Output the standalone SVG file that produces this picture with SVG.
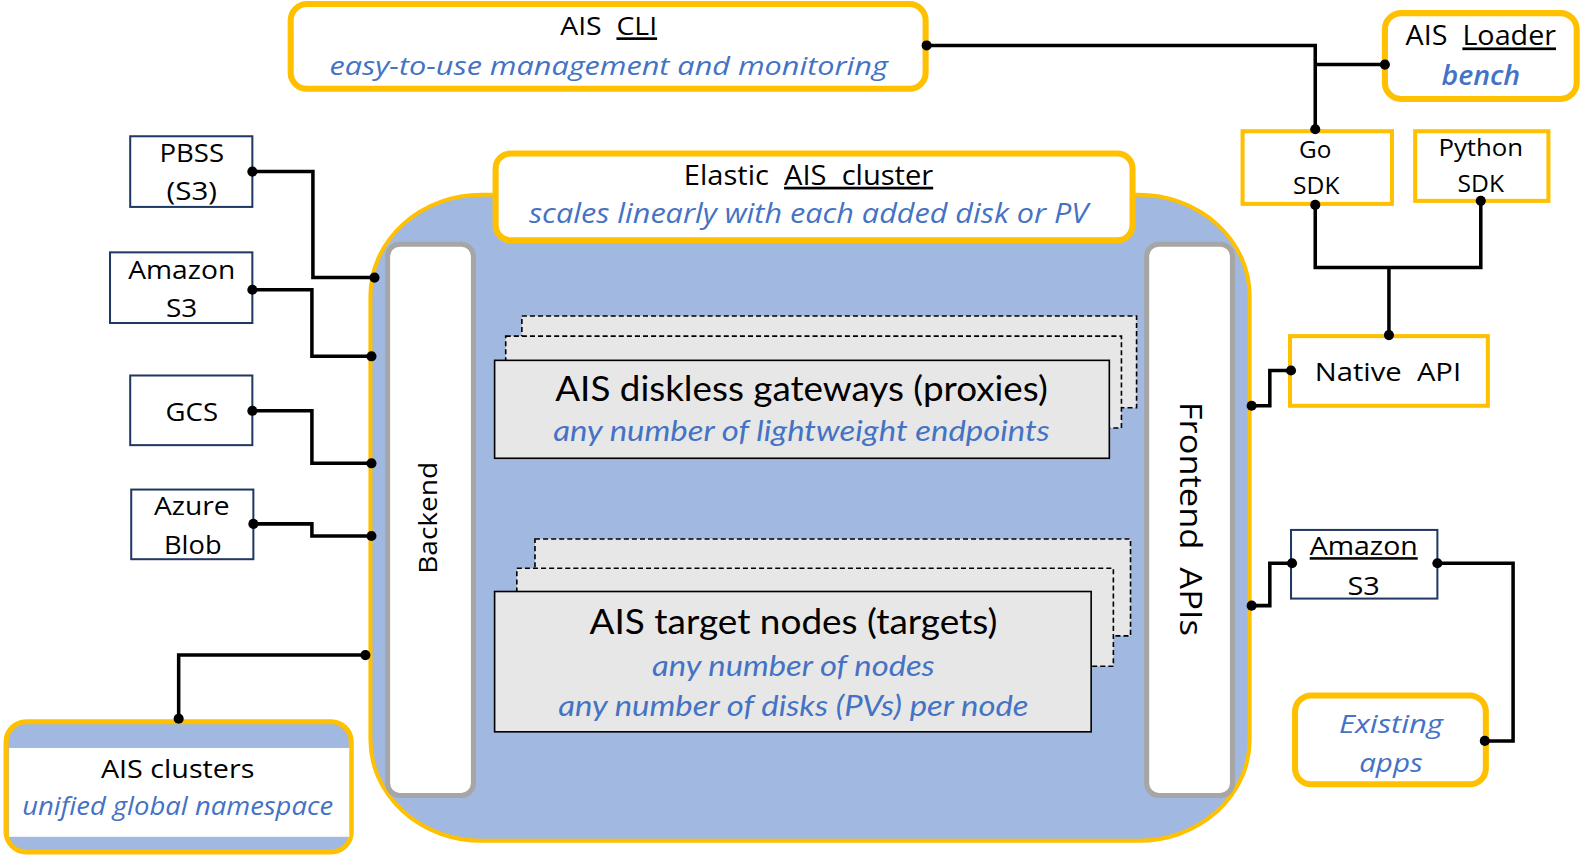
<svg xmlns="http://www.w3.org/2000/svg" width="1582" height="860" viewBox="0 0 1582 860">
<style>
text{white-space:pre;text-anchor:middle;}
.s{font-family:"Open Sans","Noto Sans","Liberation Sans",sans-serif;fill:#000;}
.c{font-family:Lato,"Liberation Sans",sans-serif;fill:#000;}
.i{font-style:italic;fill:#4472C4;}
.u{text-decoration:underline;}
.y{fill:#fff;stroke:#FFC000;stroke-width:6;}
.ys{fill:#fff;stroke:#FFC000;stroke-width:4;}
.n{fill:#fff;stroke:#203864;stroke-width:2;}
.p{fill:#fff;stroke:#A6A6A6;stroke-width:5;}
.st{fill:#E7E7E7;stroke:#000;stroke-width:1.6;}
.d{stroke-dasharray:5 3;}
.w{fill:none;stroke:#000;stroke-width:3.5;}
.dot{fill:#000;}
</style>
<g transform="scale(1.0094)">
<g id="cluster">
<rect x="367" y="193" width="871" height="640" rx="110" ry="100" fill="#A1B8E1" stroke="#FFC000" stroke-width="4"/>
</g>
<g id="backend">
<rect class="p" x="384" y="242" width="85" height="546" rx="12"/>
<text class="s" transform="translate(433,513) rotate(-90)" font-size="25" textLength="111" lengthAdjust="spacingAndGlyphs">Backend</text>
</g>
<g id="frontend">
<rect class="p" x="1136" y="242" width="85" height="546" rx="12"/>
<text class="s" transform="translate(1169,514) rotate(90)" font-size="31" textLength="232" lengthAdjust="spacingAndGlyphs">Frontend  APIs</text>
</g>
<g id="gateways">
<rect class="st d" x="517" y="313" width="609" height="91"/>
<rect class="st d" x="501" y="333" width="610" height="91"/>
<rect class="st" x="490" y="357" width="609" height="97"/>
<text class="c" x="794" y="397" font-size="35" textLength="488" lengthAdjust="spacingAndGlyphs">AIS diskless gateways (proxies)</text>
<text class="c i" x="794" y="437" font-size="29" textLength="492" lengthAdjust="spacingAndGlyphs">any number of lightweight endpoints</text>
</g>
<g id="targets">
<rect class="st d" x="530" y="534" width="590" height="96"/>
<rect class="st d" x="512" y="563" width="591" height="97"/>
<rect class="st" x="490" y="586" width="591" height="139"/>
<text class="c" x="786" y="628" font-size="35" textLength="404" lengthAdjust="spacingAndGlyphs">AIS target nodes (targets)</text>
<text class="c i" x="786" y="670" font-size="29" textLength="280" lengthAdjust="spacingAndGlyphs">any number of nodes</text>
<text class="c i" x="786" y="709" font-size="29" textLength="466" lengthAdjust="spacingAndGlyphs">any number of disks (PVs) per node</text>
</g>
<g id="elastic">
<rect class="y" x="491" y="152" width="631" height="86" rx="15"/>
<text class="s" x="801" y="183" font-size="27" textLength="247" lengthAdjust="spacingAndGlyphs">Elastic  <tspan class="u">AIS  cluster</tspan></text>
<text class="s i" x="801" y="221" font-size="27" textLength="554" lengthAdjust="spacingAndGlyphs">scales linearly with each added disk or PV</text>
</g>

<g id="cli">
<rect class="y" x="288" y="4" width="629" height="84" rx="16"/>
<text class="s" x="603" y="35" font-size="26" textLength="96" lengthAdjust="spacingAndGlyphs">AIS  <tspan class="u">CLI</tspan></text>
<text class="s i" x="603" y="74" font-size="26" textLength="553" lengthAdjust="spacingAndGlyphs">easy-to-use management and monitoring</text>
</g>
<g id="loader">
<rect class="y" x="1372" y="13" width="190" height="85" rx="16"/>
<text class="s" x="1467" y="45" font-size="27" textLength="149" lengthAdjust="spacingAndGlyphs">AIS  <tspan class="u">Loader</tspan></text>
<text class="s i" x="1467" y="84" font-size="27" font-weight="600" textLength="78" lengthAdjust="spacingAndGlyphs">bench</text>
</g>
<g id="go-sdk">
<rect class="ys" x="1231" y="130" width="148" height="72"/>
<text class="s" x="1303" y="157" font-size="23" textLength="32" lengthAdjust="spacingAndGlyphs">Go</text>
<text class="s" x="1304" y="192" font-size="23" textLength="46" lengthAdjust="spacingAndGlyphs">SDK</text>
</g>
<g id="python-sdk">
<rect class="ys" x="1402" y="130" width="132" height="69"/>
<text class="s" x="1467" y="155" font-size="23" textLength="84" lengthAdjust="spacingAndGlyphs">Python</text>
<text class="s" x="1467" y="190" font-size="23" textLength="46" lengthAdjust="spacingAndGlyphs">SDK</text>
</g>
<g id="native-api">
<rect class="ys" x="1278" y="333" width="196" height="69"/>
<text class="s" x="1375" y="377" font-size="25" textLength="145" lengthAdjust="spacingAndGlyphs">Native  API</text>
</g>
<g id="amazon-s3-right">
<rect class="n" x="1279" y="525" width="145" height="68"/>
<text class="s" x="1351" y="550" font-size="25" textLength="107" lengthAdjust="spacingAndGlyphs"><tspan class="u">Amazon</tspan></text>
<text class="s" x="1351" y="589" font-size="25" textLength="32" lengthAdjust="spacingAndGlyphs">S3</text>
</g>
<g id="existing-apps">
<rect class="y" x="1283" y="689" width="189" height="88" rx="16"/>
<text class="s i" x="1378" y="726" font-size="26" textLength="103" lengthAdjust="spacingAndGlyphs">Existing</text>
<text class="s i" x="1378" y="765" font-size="26" textLength="63" lengthAdjust="spacingAndGlyphs">apps</text>
</g>

<g id="pbss">
<rect class="n" x="129" y="135" width="121" height="70"/>
<text class="s" x="190" y="160" font-size="25" textLength="64" lengthAdjust="spacingAndGlyphs">PBSS</text>
<text class="s" x="190" y="198" font-size="25" textLength="50" lengthAdjust="spacingAndGlyphs">(S3)</text>
</g>
<g id="amazon-s3-left">
<rect class="n" x="109" y="250" width="141" height="70"/>
<text class="s" x="180" y="276" font-size="25" textLength="106" lengthAdjust="spacingAndGlyphs">Amazon</text>
<text class="s" x="180" y="314" font-size="25" textLength="31" lengthAdjust="spacingAndGlyphs">S3</text>
</g>
<g id="gcs">
<rect class="n" x="129" y="372" width="121" height="69"/>
<text class="s" x="190" y="417" font-size="25" textLength="52" lengthAdjust="spacingAndGlyphs">GCS</text>
</g>
<g id="azure-blob">
<rect class="n" x="130" y="485" width="121" height="69"/>
<text class="s" x="190" y="510" font-size="25" textLength="75" lengthAdjust="spacingAndGlyphs">Azure</text>
<text class="s" x="191" y="549" font-size="25" textLength="57" lengthAdjust="spacingAndGlyphs">Blob</text>
</g>
<g id="ais-clusters">
<rect x="6" y="715" width="342" height="129" rx="20" fill="#A1B8E1" stroke="#FFC000" stroke-width="5"/>
<rect x="9" y="741" width="337" height="88" fill="#fff"/>
<text class="s" x="176" y="771" font-size="26" textLength="152" lengthAdjust="spacingAndGlyphs">AIS clusters</text>
<text class="s i" x="176" y="807" font-size="26" textLength="308" lengthAdjust="spacingAndGlyphs">unified global namespace</text>
</g>

<g id="connectors">
<polyline class="w" points="918,45 1303,45 1303,128"/>
<polyline class="w" points="1303,64 1372,64"/>
<polyline class="w" points="1303,203 1303,265 1467,265 1467,199"/>
<polyline class="w" points="1376,265 1376,332"/>
<polyline class="w" points="1240,402 1258,402 1258,367 1279,367"/>
<polyline class="w" points="1240,600 1258,600 1258,558 1280,558"/>
<polyline class="w" points="1424,558 1499,558 1499,734 1471,734"/>
<polyline class="w" points="250,170 310,170 310,275 371,275"/>
<polyline class="w" points="250,287 309,287 309,353 368,353"/>
<polyline class="w" points="250,407 309,407 309,459 368,459"/>
<polyline class="w" points="251,519 309,519 309,531 368,531"/>
<polyline class="w" points="362,649 177,649 177,712"/>
<g class="dot">
<circle cx="918" cy="45" r="5"/>
<circle cx="1372" cy="64" r="5"/>
<circle cx="1303" cy="128" r="5"/>
<circle cx="1303" cy="203" r="5"/>
<circle cx="1467" cy="199" r="5"/>
<circle cx="1376" cy="332" r="5"/>
<circle cx="1240" cy="402" r="5"/>
<circle cx="1279" cy="367" r="5"/>
<circle cx="1240" cy="600" r="5"/>
<circle cx="1280" cy="558" r="5"/>
<circle cx="1424" cy="558" r="5"/>
<circle cx="1471" cy="734" r="5"/>
<circle cx="250" cy="170" r="5"/>
<circle cx="371" cy="275" r="5"/>
<circle cx="250" cy="287" r="5"/>
<circle cx="368" cy="353" r="5"/>
<circle cx="250" cy="407" r="5"/>
<circle cx="368" cy="459" r="5"/>
<circle cx="251" cy="519" r="5"/>
<circle cx="368" cy="531" r="5"/>
<circle cx="362" cy="649" r="5"/>
<circle cx="177" cy="712" r="5"/>
</g>
</g>
</g>
</svg>
